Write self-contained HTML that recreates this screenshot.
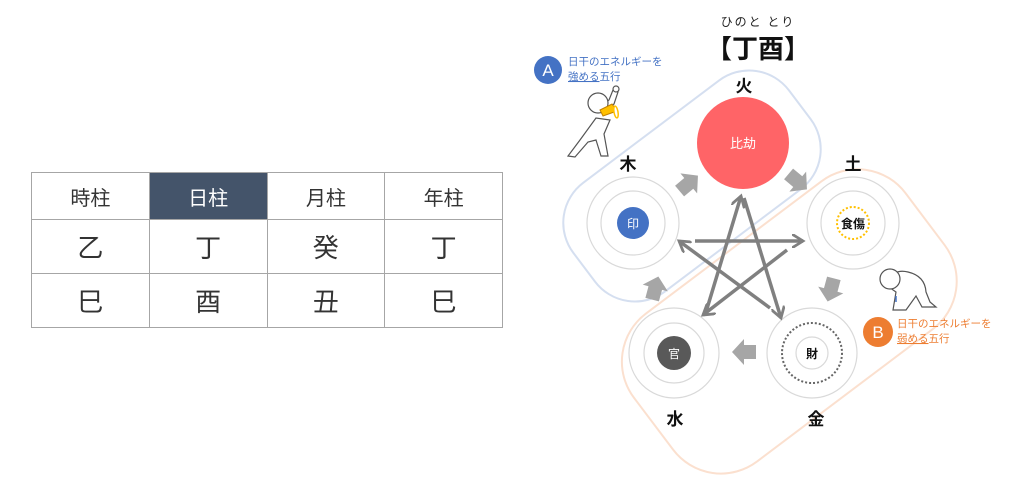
<!DOCTYPE html>
<html><head><meta charset="utf-8">
<style>
html,body{margin:0;padding:0;background:#fff;}
body{width:1024px;height:497px;position:relative;overflow:hidden;font-family:"Liberation Sans","Noto Sans CJK JP",sans-serif;}
table{position:absolute;left:31px;top:172px;border-collapse:collapse;table-layout:fixed;width:472px;}
td{border:1.5px solid #a6a6a6;padding:0;text-align:center;color:#333;font-family:"Noto Sans CJK JP",sans-serif;}
tr.h td{height:46px;font-size:20px;}
tr.b td{height:53px;font-size:26px;}
td.d{background:#44546a;color:#fff;}
svg{position:absolute;left:0;top:0;}
</style></head><body>
<table>
<tr class="h"><td>時柱</td><td class="d">日柱</td><td>月柱</td><td>年柱</td></tr>
<tr class="b"><td>乙</td><td>丁</td><td>癸</td><td>丁</td></tr>
<tr class="b"><td>巳</td><td>酉</td><td>丑</td><td>巳</td></tr>
</table>
<svg width="1024" height="497" viewBox="0 0 1024 497" font-family="Liberation Sans, Noto Sans CJK JP, sans-serif">
<defs>
<marker id="ah" markerWidth="4" markerHeight="4" refX="3.2" refY="2" orient="auto" markerUnits="strokeWidth">
<path d="M0,0 L3.2,2 L0,4" fill="none" stroke="#808080" stroke-width="0.8"/>
</marker>
</defs>
<rect x="557" y="118" width="270" height="136" rx="50" transform="rotate(-37 692 186)" fill="none" stroke="#d5dff0" stroke-width="2"/>
<rect x="619" y="229" width="340" height="185" rx="60" transform="rotate(-37 789 321)" fill="none" stroke="#fbe0cf" stroke-width="2"/>
<text x="758" y="26" font-size="12" text-anchor="middle" fill="#222" letter-spacing="2" font-family="Noto Sans CJK JP, sans-serif">ひのと とり</text>
<text x="758" y="58" font-size="26" font-weight="bold" text-anchor="middle" fill="#111" font-family="Noto Sans CJK JP, sans-serif">【丁酉】</text>
<g font-size="17" fill="#111" text-anchor="middle" font-family="Noto Sans CJK JP, sans-serif" font-weight="bold">
<text x="744" y="92">火</text><text x="628" y="170">木</text><text x="853" y="170">土</text>
<text x="675" y="425">水</text><text x="816" y="425">金</text></g>
<circle cx="743" cy="143" r="46" fill="#ff6467"/>
<text x="743" y="148" font-size="13" fill="#fff" text-anchor="middle">比劫</text>
<g fill="none" stroke="#d9d9d9" stroke-width="1.2">
<circle cx="633" cy="223" r="46"/><circle cx="633" cy="223" r="32"/>
<circle cx="853" cy="223" r="46"/><circle cx="853" cy="223" r="32"/>
<circle cx="674" cy="353" r="45"/><circle cx="674" cy="353" r="30"/>
<circle cx="812" cy="353" r="45"/><circle cx="812" cy="353" r="16"/>
</g>
<circle cx="633" cy="223" r="16" fill="#4472c4"/>
<text x="633" y="228" font-size="12" fill="#fff" text-anchor="middle">印</text>
<circle cx="853" cy="223" r="16" fill="none" stroke="#ffc000" stroke-width="2" stroke-dasharray="2 2"/>
<text x="853" y="228" font-size="12" fill="#111" text-anchor="middle" font-weight="bold">食傷</text>
<circle cx="674" cy="353" r="17" fill="#595959"/>
<text x="674" y="358" font-size="12" fill="#fff" text-anchor="middle">官</text>
<circle cx="812" cy="353" r="30" fill="none" stroke="#666" stroke-width="2" stroke-dasharray="2 2"/>
<text x="812" y="358" font-size="12" fill="#111" text-anchor="middle" font-weight="bold">財</text>
<g stroke="#808080" stroke-width="3.5" fill="none" marker-end="url(#ah)">
<line x1="695" y1="241" x2="803" y2="241"/>
<line x1="787" y1="250" x2="703" y2="315"/>
<line x1="706" y1="312" x2="741" y2="196"/>
<line x1="744" y1="198" x2="781" y2="318"/>
<line x1="770" y1="308" x2="679" y2="241"/>
</g>
<g fill="#a6a6a6">
<polygon points="-11,-7 1,-7 1,-13 13,0 1,13 1,7 -11,7" transform="translate(688,184) rotate(-40)"/>
<polygon points="-11,-7 1,-7 1,-13 13,0 1,13 1,7 -11,7" transform="translate(797,181) rotate(40)"/>
<polygon points="-11,-7 1,-7 1,-13 13,0 1,13 1,7 -11,7" transform="translate(831,289) rotate(105)"/>
<polygon points="-11,-7 1,-7 1,-13 13,0 1,13 1,7 -11,7" transform="translate(745,352) rotate(180)"/>
<polygon points="-11,-7 1,-7 1,-13 13,0 1,13 1,7 -11,7" transform="translate(655,289) rotate(-75)"/>
</g>
<circle cx="548" cy="70" r="14" fill="#4472c4"/>
<text x="548" y="76" font-size="17" fill="#fff" text-anchor="middle">A</text>
<text x="568" y="65" font-size="10.5" fill="#4472c4">日干のエネルギーを</text>
<text x="568" y="80" font-size="10.5" fill="#4472c4"><tspan text-decoration="underline">強める</tspan>五行</text>
<circle cx="878" cy="332" r="15" fill="#ed7d31"/>
<text x="878" y="338" font-size="17" fill="#fff" text-anchor="middle">B</text>
<text x="897" y="327" font-size="10.5" fill="#ed7d31">日干のエネルギーを</text>
<text x="897" y="342" font-size="10.5" fill="#ed7d31"><tspan text-decoration="underline">弱める</tspan>五行</text>
<g fill="#fff" stroke="#555" stroke-width="1.2">
<path d="M596,118 L580,140 L568,156 L575,157 L588,142 L596,140 L601,156 L608,156 L604,134 L610,120 Z"/>
<path d="M604,112 L614,104 L618,92 L613,90 L609,100 L600,106 Z"/>
<circle cx="598" cy="103" r="10"/>
<circle cx="616" cy="89" r="3"/>
</g>
<polygon points="600,110 612,104 617,111 603,116" fill="#ffc000" stroke="#c08000" stroke-width="1"/>
<ellipse cx="616" cy="112" rx="2" ry="6" fill="#fff" stroke="#ffc000" stroke-width="1.5" transform="rotate(-10 616 112)"/>
<g fill="#fff" stroke="#555" stroke-width="1.2">
<path d="M886,285 Q892,268 908,272 Q925,276 926,292 L930,302 L936,307 L922,307 L916,296 L906,310 L893,310 L896,292 Z"/>
<circle cx="890" cy="279" r="10"/>
</g>
<line x1="896" y1="296" x2="896" y2="302" stroke="#4472c4" stroke-width="1.5"/>
</svg>
</body></html>
